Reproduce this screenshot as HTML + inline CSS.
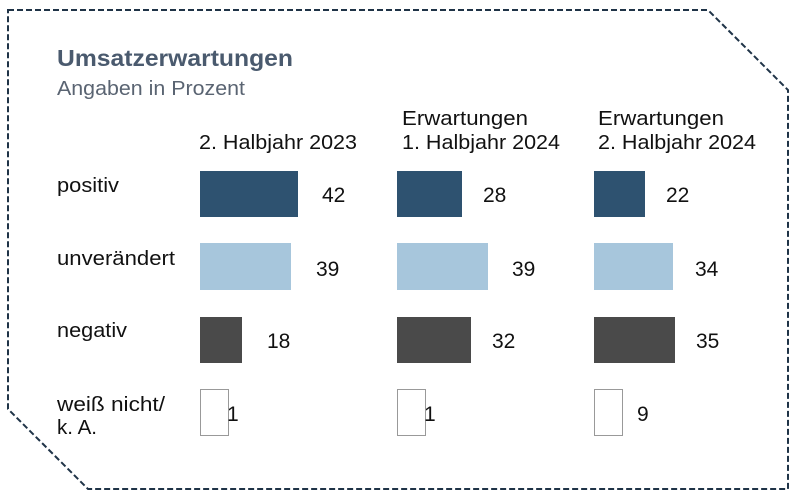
<!DOCTYPE html>
<html><head><meta charset="utf-8"><style>
body{margin:0;width:800px;height:499px;background:#fff;overflow:hidden;font-family:"Liberation Sans","DejaVu Sans",sans-serif;}
svg text{font-family:"Liberation Sans","DejaVu Sans",sans-serif;}
</style></head><body>
<svg width="800" height="499" viewBox="0 0 800 499">
<path d="M8 10 L708 10 L788 90 L788 489 L88 489 L8 409 Z" fill="none" stroke="#1f3347" stroke-width="2" stroke-dasharray="6,3"/>
<text x="57" y="66" font-size="23" font-weight="bold" fill="#4a5a6e" textLength="236" lengthAdjust="spacingAndGlyphs">Umsatzerwartungen</text>
<text x="57" y="95" font-size="20" fill="#5a6472" textLength="188" lengthAdjust="spacingAndGlyphs">Angaben in Prozent</text>
<g font-size="20" fill="#111">
<text x="199" y="149" textLength="158" lengthAdjust="spacingAndGlyphs">2. Halbjahr 2023</text>
<text x="402" y="125" textLength="126" lengthAdjust="spacingAndGlyphs">Erwartungen</text>
<text x="402" y="149" textLength="158" lengthAdjust="spacingAndGlyphs">1. Halbjahr 2024</text>
<text x="598" y="125" textLength="126" lengthAdjust="spacingAndGlyphs">Erwartungen</text>
<text x="598" y="149" textLength="158" lengthAdjust="spacingAndGlyphs">2. Halbjahr 2024</text>
<text x="57" y="192" textLength="62" lengthAdjust="spacingAndGlyphs">positiv</text>
<text x="57" y="265" textLength="118" lengthAdjust="spacingAndGlyphs">unverändert</text>
<text x="57" y="337" textLength="70" lengthAdjust="spacingAndGlyphs">negativ</text>
<text x="57" y="411" textLength="108" lengthAdjust="spacingAndGlyphs">weiß nicht/</text>
<text x="57" y="434" textLength="40" lengthAdjust="spacingAndGlyphs">k. A.</text>
</g>
<g>
<rect x="200" y="171" width="98" height="46" fill="#2e5270"/>
<rect x="397" y="171" width="65" height="46" fill="#2e5270"/>
<rect x="594" y="171" width="51" height="46" fill="#2e5270"/>
<rect x="200" y="243" width="91" height="47" fill="#a7c6dc"/>
<rect x="397" y="243" width="91" height="47" fill="#a7c6dc"/>
<rect x="594" y="243" width="79" height="47" fill="#a7c6dc"/>
<rect x="200" y="317" width="42" height="46" fill="#4a4a4a"/>
<rect x="397" y="317" width="74" height="46" fill="#4a4a4a"/>
<rect x="594" y="317" width="81" height="46" fill="#4a4a4a"/>
<rect x="200.5" y="389.5" width="28" height="46" fill="#fff" stroke="#999"/>
<rect x="397.5" y="389.5" width="28" height="46" fill="#fff" stroke="#999"/>
<rect x="594.5" y="389.5" width="28" height="46" fill="#fff" stroke="#999"/>
</g>
<g font-size="21" fill="#111">
<text x="322" y="202">42</text>
<text x="483" y="202">28</text>
<text x="666" y="202">22</text>
<text x="316" y="276">39</text>
<text x="512" y="276">39</text>
<text x="695" y="276">34</text>
<text x="267" y="348">18</text>
<text x="492" y="348">32</text>
<text x="696" y="348">35</text>
<text x="227" y="421">1</text>
<text x="424" y="421">1</text>
<text x="637" y="421">9</text>
</g>
</svg>
</body></html>
